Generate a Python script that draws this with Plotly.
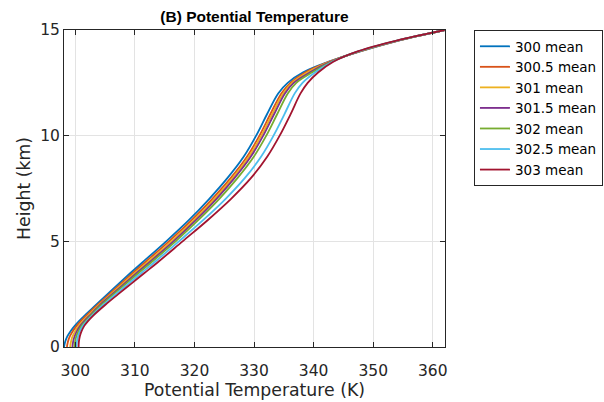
import plotly.graph_objects as go

# Heights (km) at which each mean profile is sampled
height_km = [0, 0.25, 0.5, 0.75, 1.0, 1.25, 1.5, 2.0, 2.5, 3.0, 3.5, 4.0, 5.0,
             6.0, 7.0, 8.0, 9.0, 10.0, 11.0, 12.0, 12.5, 13.0, 13.5, 14.0, 14.5, 15.0]

# Mean potential temperature profiles (K) for each surface temperature case
theta_300 = [298.10, 298.30, 298.65, 299.20, 299.90, 300.70, 301.60, 303.50, 305.40, 307.30,
             309.25, 311.25, 315.25, 319.05, 322.45, 325.55, 328.25, 330.35, 332.15, 334.05,
             335.65, 338.25, 342.55, 347.95, 354.25, 362.00]
theta_300_5 = [298.59, 298.76, 299.07, 299.57, 300.22, 301.00, 301.89, 303.76, 305.71, 307.66,
               309.65, 311.68, 315.72, 319.52, 322.96, 326.10, 328.80, 330.90, 332.70, 334.58,
               336.12, 338.63, 342.66, 347.88, 354.20, 362.00]
theta_301 = [299.13, 299.27, 299.53, 299.98, 300.57, 301.33, 302.21, 304.00, 305.98, 307.97,
             310.00, 312.07, 316.12, 319.90, 323.33, 326.42, 329.12, 331.22, 333.02, 334.88,
             336.39, 339.02, 342.78, 347.82, 354.15, 362.00]
theta_301_5 = [299.52, 299.63, 299.87, 300.27, 300.83, 301.57, 302.44, 304.20, 306.21, 308.25,
               310.31, 312.40, 316.47, 320.22, 323.66, 326.74, 329.44, 331.54, 333.34, 335.18,
               336.66, 339.40, 342.89, 347.75, 354.09, 362.00]
theta_302 = [299.86, 299.96, 300.16, 300.53, 301.05, 301.78, 302.64, 304.40, 306.44, 308.52,
             310.61, 312.73, 316.83, 320.63, 324.13, 327.25, 329.95, 332.05, 333.85, 335.66,
             337.09, 339.78, 343.00, 347.68, 354.04, 362.00]
theta_302_5 = [300.18, 300.26, 300.44, 300.77, 301.26, 301.98, 302.83, 304.71, 306.80, 308.94,
               311.08, 313.24, 317.38, 321.44, 325.19, 328.47, 331.17, 333.27, 335.07, 336.83,
               338.13, 340.29, 343.15, 347.59, 353.97, 362.00]
theta_303 = [300.55, 300.60, 300.75, 301.05, 301.50, 302.20, 303.05, 305.05, 307.20, 309.40,
             311.60, 313.80, 318.00, 322.20, 326.10, 329.50, 332.20, 334.30, 336.10, 337.80,
             339.00, 340.80, 343.30, 347.50, 353.90, 362.00]

series_names = ["300 mean", "300.5 mean", "301 mean", "301.5 mean",
                "302 mean", "302.5 mean", "303 mean"]
series_values = [theta_300, theta_300_5, theta_301, theta_301_5,
                 theta_302, theta_302_5, theta_303]
line_colors = ["#0072BD", "#D95319", "#EDB120", "#7E2F8E",
               "#77AC30", "#4DBEEE", "#A2142F"]

x_ticks = [300, 310, 320, 330, 340, 350, 360]
y_ticks = [0, 5, 10, 15]

body_font = "DejaVu Sans, Verdana, sans-serif"
title_font = "Liberation Sans, Arial, Helvetica, sans-serif"
ink = "#262626"

fig = go.Figure()
for name, vals, color in zip(series_names, series_values, line_colors):
    fig.add_trace(go.Scatter(
        x=vals, y=height_km, mode="lines", name=name,
        line=dict(color=color, width=1.8, shape="spline", smoothing=1.0),
    ))

axis_common = dict(
    showline=True, linecolor=ink, linewidth=1, mirror="ticks",
    ticks="inside", ticklen=5, tickcolor=ink, tickwidth=1,
    showgrid=True, gridcolor="#e3e3e3", gridwidth=1, automargin=False,
    zeroline=False, tickfont=dict(size=15.5, color=ink, family=body_font),
)

fig.update_layout(
    width=604, height=402,
    margin=dict(l=64, r=159, t=30, b=55, autoexpand=False),
    paper_bgcolor="white", plot_bgcolor="white",
    font=dict(family=body_font, color=ink),
    title=dict(text="<b>(B) Potential Temperature</b>", x=0.5, xref="paper",
               xanchor="center", y=0.958, yanchor="middle",
               font=dict(size=15.5, color="black", family=title_font)),
    xaxis=dict(range=[298.1, 362.05], tickvals=x_ticks, ticklabelstandoff=9,
               title=dict(text="Potential Temperature (K)", standoff=3,
                          font=dict(size=17.3, color=ink, family=body_font)),
               **axis_common),
    yaxis=dict(range=[0, 15], tickvals=y_ticks,
               title=dict(text="Height (km)", standoff=5,
                          font=dict(size=17.3, color=ink, family=body_font)),
               **axis_common),
    legend=dict(x=1.076, y=1.0, xanchor="left", yanchor="top",
                bordercolor=ink, borderwidth=1, bgcolor="white",
                font=dict(size=13.5, color="black", family=body_font),
                tracegroupgap=0, itemwidth=30),
    showlegend=True,
)

fig.write_html("out.html")
